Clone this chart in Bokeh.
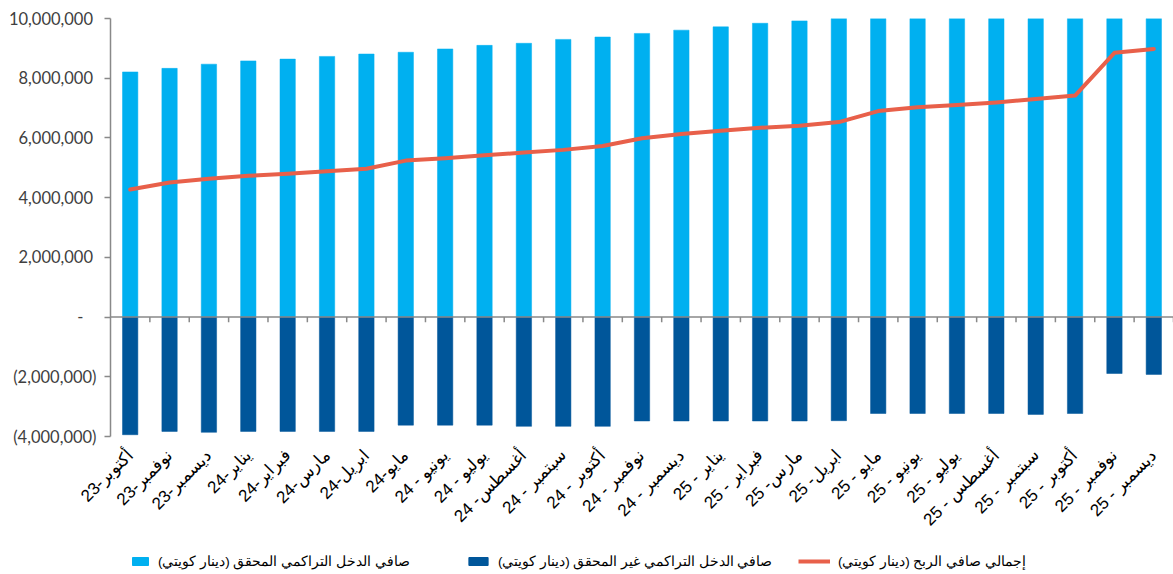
from math import pi
from bokeh.plotting import figure
from bokeh.layouts import column
from bokeh.models import (Range1d, FactorRange, FixedTicker, CustomJSTickFormatter,
                          Span, Legend, LegendItem, ColumnDataSource)
from bokeh.transform import dodge
from bokeh.embed import file_html
from bokeh.resources import INLINE

categories = [
    "أكتوبر-23", "نوفمبر-23", "ديسمبر-23", "يناير-24", "فبراير-24", "مارس-24",
    "ابريل-24", "مايو-24", "يونيو - 24", "يوليو - 24", "أغسطس- 24", "سبتمبر - 24",
    "أكتوبر - 24", "نوفمبر - 24", "ديسمبر - 24", "يناير - 25", "فبراير - 25",
    "مارس- 25", "ابريل- 25", "مايو - 25", "يونيو - 25", "يوليو - 25",
    "أغسطس - 25", "سبتمبر - 25", "أكتوبر - 25", "نوفمبر - 25", "ديسمبر - 25",
]

realized = [8210000, 8330000, 8470000, 8580000, 8640000, 8730000, 8810000, 8870000,
            8980000, 9100000, 9170000, 9300000, 9380000, 9500000, 9610000, 9720000,
            9840000, 9920000, 10000000, 10130000, 10260000, 10330000, 10420000,
            10560000, 10650000, 10740000, 10900000]

unrealized = [-3940000, -3830000, -3860000, -3830000, -3830000, -3830000, -3830000,
              -3620000, -3620000, -3620000, -3660000, -3660000, -3660000, -3480000,
              -3480000, -3480000, -3480000, -3480000, -3470000, -3230000, -3230000,
              -3230000, -3230000, -3260000, -3230000, -1890000, -1920000]

total = [4270000, 4510000, 4630000, 4730000, 4800000, 4880000, 4970000, 5240000,
         5320000, 5420000, 5510000, 5600000, 5730000, 5990000, 6130000, 6240000,
         6340000, 6410000, 6530000, 6900000, 7030000, 7100000, 7190000, 7300000,
         7420000, 8850000, 8980000]

y_ticks = [-4000000, -2000000, 0, 2000000, 4000000, 6000000, 8000000, 10000000]

legend_labels = [
    "صافي الدخل التراكمي المحقق (دينار كويتي)",
    "صافي الدخل التراكمي غير المحقق (دينار كويتي)",
    "إجمالي صافي الربح (دينار كويتي)",
]

LIGHT = "#00B0F0"
DARK = "#00569A"
RED = "#E8604A"
GRAY = "#898989"

RLE, PDF = "\u202b", "\u202c"
factors = [RLE + c + PDF for c in categories]

src = ColumnDataSource(dict(cat=factors, realized=realized,
                            unrealized=unrealized, total=total))

p = figure(width=1173, height=546,
           x_range=FactorRange(*factors, range_padding=0),
           y_range=Range1d(y_ticks[0], y_ticks[-1]),
           output_backend="svg", toolbar_location=None,
           min_border_left=110, min_border_right=0,
           min_border_top=18, min_border_bottom=110)

p.outline_line_color = None
p.xgrid.visible = False
p.ygrid.visible = False

r_real = p.vbar(x="cat", top="realized", bottom=0, width=0.39, source=src,
                fill_color=LIGHT, line_color=LIGHT, line_width=0.5)
r_unreal = p.vbar(x="cat", top=0, bottom="unrealized", width=0.39, source=src,
                  fill_color=DARK, line_color=DARK, line_width=0.5)

# zero axis line with category-boundary tick marks
p.add_layout(Span(location=0, dimension="width", line_color=GRAY, line_width=1.5))
p.segment(x0=dodge("cat", 0.5, range=p.x_range), y0=0,
          x1=dodge("cat", 0.5, range=p.x_range), y1=-170000,
          source=src, line_color=GRAY, line_width=1.5)

r_line = p.line(x="cat", y="total", source=src, line_color=RED, line_width=4,
                line_join="round", line_cap="round")

# y axis
ya = p.yaxis[0]
ya.ticker = FixedTicker(ticks=y_ticks)
ya.formatter = CustomJSTickFormatter(code="""
    if (Math.abs(tick) < 1) return "-\u2007\u2008";
    const s = Math.abs(tick).toLocaleString('en-US');
    return tick < 0 ? "(" + s + ")" : s + "\u2008";
""")
ya.axis_line_color = GRAY
ya.axis_line_width = 1.5
ya.major_tick_line_color = GRAY
ya.major_tick_line_width = 1.5
ya.major_tick_out = 6
ya.major_tick_in = 0
ya.minor_tick_line_color = None
ya.major_label_text_font = "Lato"
ya.major_label_text_font_size = "16.5px"
ya.major_label_text_color = "#404040"
ya.major_label_standoff = 8

# x axis
xa = p.xaxis[0]
xa.axis_line_color = None
xa.major_tick_line_color = None
xa.minor_tick_line_color = None
xa.major_label_orientation = pi / 4
xa.major_label_text_font = "Liberation Sans"
xa.major_label_text_font_size = "17px"
xa.major_label_text_color = "#000000"
xa.major_label_standoff = 10

# legend strip below the chart
lg = figure(width=1173, height=28, x_range=Range1d(0, 1), y_range=Range1d(0, 1),
            output_backend="svg", toolbar_location=None,
            x_axis_type=None, y_axis_type=None,
            min_border_left=110, min_border_right=0, min_border_top=0, min_border_bottom=0)
lg.outline_line_color = None
lg.xgrid.visible = False
lg.ygrid.visible = False

# legend proxies (kept outside the visible range of the strip)
proxy = ColumnDataSource(dict(x=[-5], y=[-5]))
k_real = lg.vbar(x="x", top="y", width=0.1, source=proxy,
                 fill_color=LIGHT, line_color=LIGHT)
k_unreal = lg.vbar(x="x", top="y", width=0.1, source=proxy,
                   fill_color=DARK, line_color=DARK)
k_line = lg.line(x="x", y="y", source=proxy, line_color=RED, line_width=4)

leg_specs = [(k_real, 20, 20), (k_unreal, 356, 24), (k_line, 688, 32)]
for (rend, xpos, gw), lab in zip(leg_specs, legend_labels):
    leg = Legend(items=[LegendItem(label=RLE + lab + PDF, renderers=[rend])],
                 location=(xpos, 4), orientation="horizontal",
                 border_line_color=None, background_fill_alpha=0,
                 padding=0, margin=0, glyph_width=gw, glyph_height=10,
                 label_standoff=8, label_height=18,
                 label_text_font="Liberation Sans", label_text_font_size="13.5px",
                 label_text_color="#000000")
    lg.add_layout(leg, "center")

layout = column(p, lg, spacing=0)
open("out.html", "w").write(file_html(layout, INLINE))
